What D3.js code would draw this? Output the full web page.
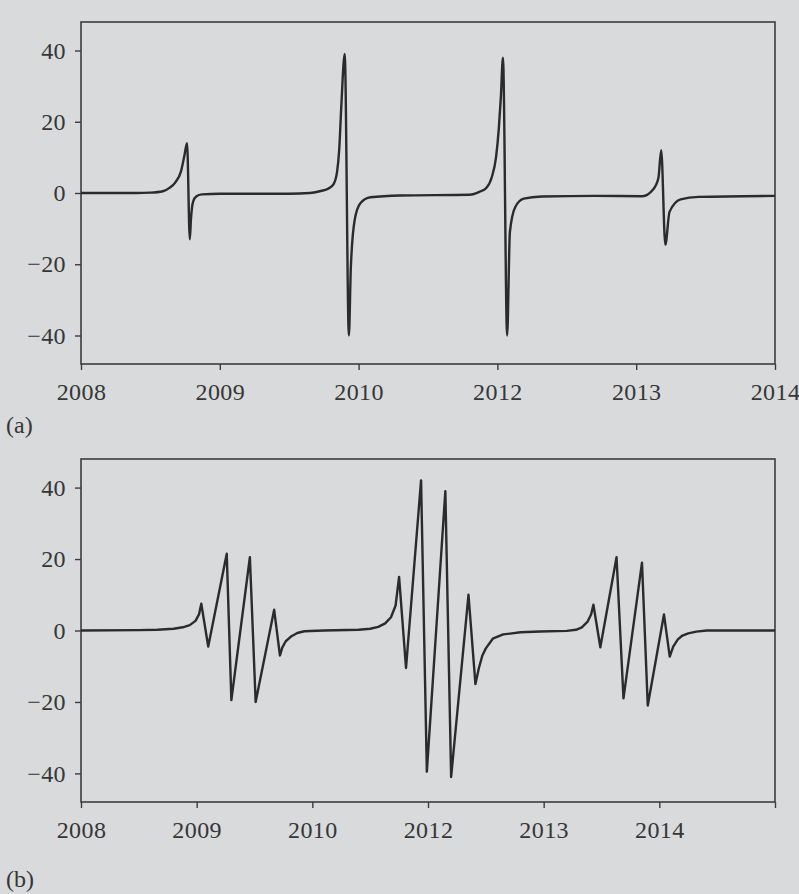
<!doctype html>
<html>
<head>
<meta charset="utf-8">
<script src="https://d3js.org/d3.v7.min.js"></script>
<style type="text/css">
    html,body{
        margin: 0;
        overflow: hidden;
        background: #d8dadb;
    }
    text {
        font-family: "Liberation Serif", "DejaVu Serif", serif;
        fill: #363636;
    }
</style>
</head>
<body>
<script type="text/javascript">
// tick labels as printed (the x positions are evenly spaced ticks)
var aTickLabels = ["2008", "2009", "2010", "2012", "2013", "2014"];
var bTickLabels = ["2008", "2009", "2010", "2012", "2013", "2014", ""];
var yTicks = [-40, -20, 0, 20, 40];

// panel (a): x in tick units, y values
var aX = [0, 0.4, 0.5, 0.59, 0.64, 0.68, 0.72, 0.745, 0.764, 0.784, 0.792, 0.80, 0.81, 0.83, 0.87, 1.0, 1.5,
          1.65, 1.72, 1.78, 1.82, 1.845, 1.86, 1.875, 1.90, 1.93, 1.944, 1.972, 2.014, 2.085, 2.3, 2.8,
          2.87, 2.92, 2.96, 2.99, 3.01, 3.025, 3.04, 3.07, 3.09, 3.128, 3.19, 3.32, 3.7,
          4.045, 4.12, 4.16, 4.18, 4.21, 4.24, 4.32, 4.45, 5.0];
var aY = [0, 0, 0.1, 0.5, 1.5, 3, 6, 10.5, 14, -13, -7.5, -4, -2.2, -1, -0.4, -0.2, -0.2,
          0, 0.5, 1.2, 2.5, 6, 12, 24, 39, -40, -21, -7.5, -2.8, -1.2, -0.7, -0.5,
          0.3, 1.4, 4.5, 10, 18, 27, 38, -40, -11, -4, -1.6, -1, -0.8,
          -0.9, 0.9, 4.2, 12, -14.5, -5.3, -1.8, -1.1, -0.8];

// panel (b)
var bX = [0, 0.5, 0.66, 0.80, 0.88, 0.94, 0.99, 1.02, 1.04, 1.10, 1.26, 1.30, 1.46, 1.51, 1.67, 1.72,
          1.74, 1.77, 1.82, 1.87, 1.93, 2.1, 2.4, 2.5, 2.57, 2.63, 2.68, 2.72, 2.75, 2.81, 2.94, 2.99,
          3.15, 3.20, 3.35, 3.41, 3.44, 3.47, 3.50, 3.56, 3.65, 3.8, 3.97, 4.2, 4.28, 4.33, 4.38, 4.41,
          4.43, 4.49, 4.63, 4.69, 4.85, 4.90, 5.04, 5.09, 5.12, 5.16, 5.20, 5.25, 5.32, 5.41, 6];
var bY = [0, 0.1, 0.2, 0.5, 0.9, 1.5, 2.7, 4.5, 7.5, -4.5, 21.5, -19.5, 20.5, -20, 5.8, -7,
          -4.8, -3, -1.6, -0.7, -0.2, 0, 0.2, 0.5, 1, 2, 3.7, 7, 15, -10.5, 42, -39.5,
          39, -41, 10, -15, -10.5, -7, -5, -2.3, -1.1, -0.5, -0.3, -0.1, 0.2, 0.9, 2.5, 4.5,
          7.2, -4.7, 20.5, -19, 19, -21, 4.5, -7.3, -4.5, -2.5, -1.4, -0.8, -0.3, 0, 0];

var svg = d3.select("body").append("svg")
    .attr("width", 799)
    .attr("height", 894);

function panel(cfg){
    var x = d3.scaleLinear().domain([0, cfg.xMax]).range([cfg.left, cfg.right]);
    var y = d3.scaleLinear().domain([-48, 48]).range([cfg.bottom, cfg.top]);
    var g = svg.append("g");

    g.append("rect")
        .attr("x", cfg.left).attr("y", cfg.top)
        .attr("width", cfg.right - cfg.left).attr("height", cfg.bottom - cfg.top)
        .attr("fill", "none").attr("stroke", "#3c3c3c").attr("stroke-width", 1.6);

    var ya = g.append("g")
        .attr("transform", "translate(" + cfg.left + ",0)")
        .call(d3.axisLeft(y).tickValues(yTicks).tickSize(6).tickPadding(9)
            .tickFormat(function(d){ return d < 0 ? "\u2212" + (-d) : d; }));
    var xa = g.append("g")
        .attr("transform", "translate(0," + cfg.bottom + ")")
        .call(d3.axisBottom(x).tickValues(d3.range(cfg.labels.length)).tickSize(6).tickPadding(13)
            .tickFormat(function(i){ return cfg.labels[i]; }));
    [ya, xa].forEach(function(a){
        a.select(".domain").remove();
        a.selectAll("line").attr("stroke", "#3c3c3c").attr("stroke-width", 1.4);
        a.selectAll("text").attr("font-size", 24).attr("letter-spacing", 0.4)
            .attr("fill", "#363636").style("font-family", "Liberation Serif, serif");
    });

    var line = d3.line()
        .x(function(d){ return x(d[0]); })
        .y(function(d){ return y(d[1]); })
        .curve(cfg.curve);
    g.append("path")
        .datum(d3.zip(cfg.xs, cfg.ys))
        .attr("d", line)
        .attr("fill", "none")
        .attr("stroke", "#2b2b2b")
        .attr("stroke-width", 2.4)
        .attr("stroke-linejoin", "round");

    g.append("text")
        .attr("x", 6).attr("y", cfg.tagY)
        .attr("font-size", 24)
        .text(cfg.tag);
}

panel({left: 81, right: 775, top: 22, bottom: 364, xMax: 5, labels: aTickLabels,
       xs: aX, ys: aY, curve: d3.curveMonotoneX, tag: "(a)", tagY: 433});
panel({left: 81, right: 775, top: 459, bottom: 802, xMax: 6, labels: bTickLabels,
       xs: bX, ys: bY, curve: d3.curveLinear, tag: "(b)", tagY: 887});
</script>
</body>
</html>
